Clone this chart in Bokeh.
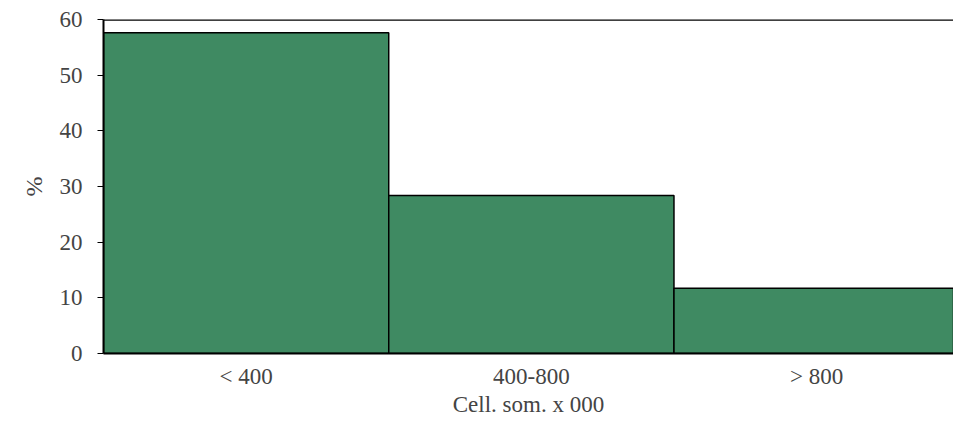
from bokeh.plotting import figure
from bokeh.models import Range1d, FixedTicker, Span
from bokeh.embed import file_html
from bokeh.resources import INLINE

categories = ["< 400", "400-800", "> 800"]
values = [57.6, 28.4, 11.7]
y_ticks = [0, 10, 20, 30, 40, 50, 60]

xs = [i + 0.5 for i in range(len(categories))]

p = figure(width=953, height=423, output_backend="svg", toolbar_location=None,
           x_range=Range1d(0, 2.98), y_range=Range1d(0, 60),
           min_border_left=103, min_border_right=0, min_border_top=19, min_border_bottom=70)
p.vbar(x=xs, top=values, width=1.0, bottom=0, fill_color="#3f8a62",
       line_color="black", line_width=1.5)

p.add_layout(Span(location=60, dimension="width", line_color="black", line_width=2.5))

p.outline_line_color = None
p.grid.visible = False
p.background_fill_color = "white"
p.border_fill_color = "white"

font = "Liberation Serif"
p.yaxis.ticker = FixedTicker(ticks=y_ticks)
p.yaxis.axis_label = "%"
p.yaxis.axis_label_text_font = font
p.yaxis.axis_label_text_font_style = "normal"
p.yaxis.axis_label_text_font_size = "24px"
p.yaxis.axis_label_standoff = 10
p.yaxis.major_label_text_font = font
p.yaxis.major_label_text_font_size = "23px"
p.yaxis.major_label_standoff = 15
p.yaxis.major_tick_in = 0
p.yaxis.major_tick_out = 6
p.yaxis.minor_tick_line_color = None
p.yaxis.axis_line_width = 2
p.yaxis.axis_line_color = "black"
p.yaxis.major_tick_line_color = "black"

p.xaxis.ticker = FixedTicker(ticks=xs)
p.xaxis.major_label_overrides = {x: c for x, c in zip(xs, categories)}
p.xaxis.axis_label = "Cell. som. x 000"
p.xaxis.axis_label_text_font = font
p.xaxis.axis_label_text_font_style = "normal"
p.xaxis.axis_label_text_font_size = "23px"
p.xaxis.axis_label_standoff = 0
p.xaxis.major_label_text_font = font
p.xaxis.major_label_text_font_size = "23px"
p.xaxis.major_label_standoff = 10
p.xaxis.major_tick_in = 0
p.xaxis.major_tick_out = 0
p.xaxis.major_tick_line_color = None
p.xaxis.minor_tick_line_color = None
p.xaxis.axis_line_width = 2
p.xaxis.axis_line_color = "black"

open("out.html", "w").write(file_html(p, INLINE))
